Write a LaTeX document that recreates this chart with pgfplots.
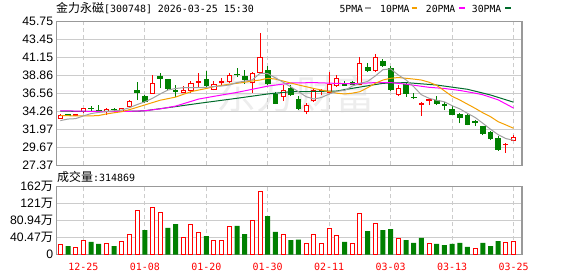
\documentclass[border=0pt]{standalone}
\usepackage{fontspec}
\setmainfont{Liberation Sans}
\newfontfamily\cjk{Noto Sans CJK SC}
\newfontfamily\mono{DejaVu Sans Mono}
\usepackage{pgfplots}
\pgfplotsset{compat=1.18}
\usepackage{pgfplotstable}
\definecolor{cup}{HTML}{FF0000}
\definecolor{cdn}{HTML}{008000}
\definecolor{ma5}{HTML}{A0A0A0}
\definecolor{ma10}{HTML}{F5A000}
\definecolor{ma20}{HTML}{FF00FF}
\definecolor{ma30}{HTML}{006B2B}
\definecolor{gridc}{HTML}{CCCCCC}
\definecolor{axc}{HTML}{999999}

\pgfplotstableread{
i o h l c
0 33.40 33.90 33.35 33.80
1 33.85 33.95 33.70 33.80
2 33.72 34.00 33.65 33.90
3 34.24 34.70 34.10 34.67
4 34.72 34.95 34.37 34.62
5 34.45 35.10 34.30 34.38
6 34.24 34.67 33.82 34.50
7 34.55 34.70 34.30 34.50
8 34.30 34.70 34.20 34.65
9 34.90 35.70 34.85 35.60
10 36.90 38.07 35.73 36.70
11 36.15 36.37 35.31 35.60
12 36.60 38.90 36.50 37.85
13 38.80 39.20 37.20 38.50
14 38.30 38.40 37.00 37.20
15 36.95 37.64 36.15 36.85
16 36.70 37.50 36.60 36.90
17 36.88 38.20 36.60 37.86
18 38.00 39.14 37.43 38.15
19 38.40 39.40 37.40 37.55
20 37.10 38.10 36.95 37.70
21 38.00 38.50 37.70 38.10
22 38.07 39.20 37.90 38.92
23 39.05 39.78 38.70 38.95
24 38.80 39.60 37.80 38.30
25 37.95 39.34 36.66 39.05
26 39.20 44.32 39.00 41.20
27 39.57 40.07 37.70 37.86
28 36.50 36.80 35.20 35.30
29 36.15 37.60 35.60 37.00
30 37.20 37.60 36.30 36.50
31 35.85 36.20 34.50 34.65
32 34.24 35.39 33.90 35.09
33 35.73 37.20 35.50 36.88
34 36.84 37.10 36.40 37.00
35 36.66 39.30 36.50 37.73
36 37.56 38.90 37.40 38.50
37 37.86 38.10 37.55 37.64
38 38.00 38.20 37.60 37.75
39 37.73 41.18 37.60 40.40
40 39.85 40.40 39.30 39.47
41 39.47 41.60 39.30 41.18
42 40.62 41.00 39.95 40.11
43 39.78 40.10 36.90 37.14
44 36.37 37.60 36.20 37.14
45 37.77 38.07 36.15 36.59
46 36.10 36.59 35.82 36.05
47 35.20 35.52 33.69 35.30
48 35.73 35.98 35.05 35.82
49 35.73 36.20 35.10 35.31
50 35.12 35.50 34.43 35.05
51 34.58 35.00 33.85 33.94
52 33.90 34.03 32.76 33.52
53 33.73 34.00 32.50 32.67
54 33.00 33.20 32.40 32.93
55 32.32 32.40 31.20 31.48
56 31.61 31.80 30.60 30.84
57 30.84 31.10 29.25 29.44
58 30.03 30.20 29.00 30.11
59 30.62 31.20 30.50 30.97
}\kdata

\begin{document}
\begin{tikzpicture}
\useasboundingbox (0bp,0bp) rectangle (578bp,276bp);
% watermark
\node[text=black!7, font=\cjk\fontsize{40}{40}\selectfont, inner sep=0pt] at (296bp,182bp) {东方财富};
% title
\node[anchor=base west, inner sep=0pt] at (56bp,263.2bp) {{\cjk\fontsize{12}{12}\selectfont 金力永磁}{\mono\fontsize{10}{10}\selectfont[300748] 2026-03-25 15:30}};
% legend
\node[anchor=base west, inner sep=0pt, font=\mono\fontsize{9.8}{10}\selectfont] at (339.3bp,263.3bp) {5PMA};
\draw[ma5, line width=2bp] (365bp,267.7bp) -- (370.7bp,267.7bp);
\node[anchor=base west, inner sep=0pt, font=\mono\fontsize{9.8}{10}\selectfont] at (380bp,263.3bp) {10PMA};
\draw[ma10, line width=2bp] (411.7bp,267.7bp) -- (417.3bp,267.7bp);
\node[anchor=base west, inner sep=0pt, font=\mono\fontsize{9.8}{10}\selectfont] at (425.7bp,263.3bp) {20PMA};
\draw[ma20, line width=2bp] (459bp,267.7bp) -- (464.7bp,267.7bp);
\node[anchor=base west, inner sep=0pt, font=\mono\fontsize{9.8}{10}\selectfont] at (471.7bp,263.3bp) {30PMA};
\draw[ma30, line width=2bp] (505bp,267.7bp) -- (510.7bp,267.7bp);
% volume label
\node[anchor=base west, inner sep=0pt] at (57bp,94.8bp) {{\cjk\fontsize{12}{12}\selectfont 成交量}{\mono\fontsize{10}{10}\selectfont :314869}};

\pgfplotstablegetrowsof{\kdata}
\pgfmathtruncatemacro{\NN}{\pgfplotsretval-1}

\pgfplotsset{
  panel/.style={
    scale only axis, anchor=south west,
    width=465.5bp, xmin=-0.5, xmax=60.1,
    xtick={3,11,19,27,35,43,51,59},
    xmajorgrids, ymajorgrids,
    major y grid style={gridc, line width=1bp},
    major x grid style={gridc, line width=1bp, dash pattern=on 4bp off 3bp},
    axis line style={axc, line width=1.2bp},
    major tick length=0pt,
    tick style={draw=none},
    yticklabel style={font=\fontsize{12.3}{12}\selectfont, inner sep=0pt, anchor=east, xshift=-3.2bp},
  }
}

\begin{axis}[panel, at={(56.5bp,110.5bp)}, height=144bp,
  ymin=27.37, ymax=45.75,
  ytick={27.37,29.67,31.97,34.26,36.56,38.86,41.15,43.45,45.75},
  yticklabels={27.37,29.67,31.97,34.26,36.56,38.86,41.15,43.45,45.75},
  xticklabel=\empty]
\pgfplotsforeachungrouped \r in {0,...,\NN}{%
  \pgfplotstablegetelem{\r}{o}\of\kdata\let\vO\pgfplotsretval
  \pgfplotstablegetelem{\r}{h}\of\kdata\let\vH\pgfplotsretval
  \pgfplotstablegetelem{\r}{l}\of\kdata\let\vL\pgfplotsretval
  \pgfplotstablegetelem{\r}{c}\of\kdata\let\vC\pgfplotsretval
  \pgfmathtruncatemacro{\up}{\vC>=\vO}%
  \ifnum\up=1
    \pgfmathsetmacro{\xa}{\r-0.27}\pgfmathsetmacro{\xb}{\r+0.27}%
    \edef\cmd{\noexpand\addplot[draw=cup,line width=1bp] coordinates {(\r,\vL) (\r,\vH)};
      \noexpand\addplot[draw=cup,fill=white,line width=1bp] coordinates {(\xa,\vO) (\xb,\vO) (\xb,\vC) (\xa,\vC)} -- cycle;}%
  \else
    \pgfmathsetmacro{\xa}{\r-0.3}\pgfmathsetmacro{\xb}{\r+0.3}%
    \edef\cmd{\noexpand\addplot[draw=cdn,line width=1bp] coordinates {(\r,\vL) (\r,\vH)};
      \noexpand\addplot[draw=cdn,fill=cdn,line width=0.8bp] coordinates {(\xa,\vO) (\xb,\vO) (\xb,\vC) (\xa,\vC)} -- cycle;}%
  \fi
  \cmd
}
% MA30
\addplot[ma30, line width=1bp] coordinates {(0,34.30) (5,34.28) (10,34.30) (11,34.36) (14,34.75) (18,35.30) (23,35.95) (27,36.50) (30,36.79) (33,36.82) (36,36.88) (38,37.22) (42,37.86) (45,37.95) (49,37.64) (53,37.10) (56,36.37) (59,35.45)};
% MA20
\addplot[ma20, line width=1bp] coordinates {(0,34.36) (3,34.30) (6,34.25) (9,34.28) (11,34.36) (13,34.60) (15,34.95) (18,35.85) (20,36.20) (23,36.70) (25,37.10) (27,37.50) (30,37.90) (33,37.95) (36,37.85) (38,37.80) (41,37.95) (43,37.95) (45,37.75) (48,37.35) (50,37.20) (52,36.95) (54,36.60) (55,36.40) (57,35.75) (59,34.70)};
% MA10
\addplot[ma10, line width=1bp] coordinates {(0,33.75) (2,33.70) (4,33.70) (5,33.75) (6,33.95) (7,34.10) (8,34.24) (9,34.50) (10,34.80) (11,35.10) (12,35.40) (13,35.70) (14,35.90) (15,36.10) (16,36.45) (17,36.79) (18,37.00) (19,37.20) (20,37.43) (21,37.60) (22,37.75) (23,37.86) (24,38.00) (25,38.15) (26,38.28) (27,38.50) (28,38.40) (29,38.15) (30,37.90) (31,37.65) (32,37.43) (33,37.20) (34,37.00) (35,36.80) (36,36.60) (37,36.50) (38,36.60) (39,36.79) (40,37.30) (41,37.86) (42,38.28) (43,38.50) (44,38.60) (45,38.50) (46,38.40) (47,38.28) (48,38.00) (49,37.60) (50,36.90) (51,36.20) (52,35.73) (53,35.20) (54,34.67) (55,34.10) (56,33.60) (57,32.96) (58,32.55) (59,32.12)};
% MA5
\addplot[ma5, line width=1bp] coordinates {(0,33.10) (1,33.30) (2,33.35) (3,33.70) (4,34.00) (5,34.15) (6,34.25) (7,34.35) (8,34.45) (9,34.75) (10,35.15) (11,35.50) (12,35.95) (13,36.50) (14,37.00) (15,37.20) (16,37.30) (17,37.30) (18,37.30) (19,37.35) (20,37.45) (21,37.52) (22,37.65) (23,37.95) (24,38.15) (25,38.30) (26,39.14) (27,39.10) (28,38.55) (29,38.00) (30,37.40) (31,36.80) (32,36.15) (33,35.86) (34,36.05) (35,36.50) (36,36.85) (37,36.95) (38,37.50) (39,37.85) (40,38.10) (41,38.80) (42,39.60) (43,39.70) (44,38.92) (45,38.30) (46,37.43) (47,36.40) (48,35.95) (49,35.70) (50,35.50) (51,35.00) (52,34.60) (53,34.03) (54,33.50) (55,32.76) (56,32.00) (57,31.30) (58,30.80) (59,30.60)};
\end{axis}

\begin{axis}[panel, at={(56.5bp,21.5bp)}, height=68bp,
  ymin=0, ymax=161.88,
  ytick={0,40.47,80.94,121.41,161.88},
  yticklabels={0,40.47{\cjk 万},80.94{\cjk 万},121{\cjk 万},162{\cjk 万}},
  xticklabels={12-25,01-08,01-20,01-30,02-11,03-03,03-13,03-25},
  xticklabel style={font=\mono\fontsize{10}{10}\selectfont, text=red, anchor=base, inner sep=0pt, yshift=-15.5bp}]
\addplot[ybar, bar width=4bp, bar shift=0pt, draw=cup, fill=white, line width=1bp] coordinates {
(0,24.3) (2,17.1) (3,33.8) (6,26.6) (8,31.4) (9,48.0) (10,105.1) (12,112.3) (13,100.4) (16,40.9) (17,71.9) (18,52.8) (20,33.8) (21,33.8) (22,67.1) (25,81.4) (26,150.4) (29,48.0) (32,26.7) (33,48.0) (34,26.7) (35,62.3) (36,45.6) (38,26.7) (39,98.0) (41,74.2) (44,38.5) (48,26.7) (54,14.7) (58,27.4) (59,31.49)};
\addplot[ybar, bar width=5bp, bar shift=0pt, draw=none, fill=cdn] coordinates {
(1,20.2) (4,29.8) (5,25.0) (7,20.2) (11,58.3) (14,63.1) (15,72.6) (19,44.0) (23,67.9) (24,48.8) (27,91.6) (28,53.6) (30,34.5) (31,35.7) (37,29.8) (40,55.9) (42,58.3) (43,60.7) (45,34.5) (46,27.4) (47,39.3) (49,25.0) (50,22.6) (51,25.0) (52,27.4) (53,17.9) (55,27.4) (56,20.2) (57,32.1)};
\end{axis}
\end{tikzpicture}
\end{document}
